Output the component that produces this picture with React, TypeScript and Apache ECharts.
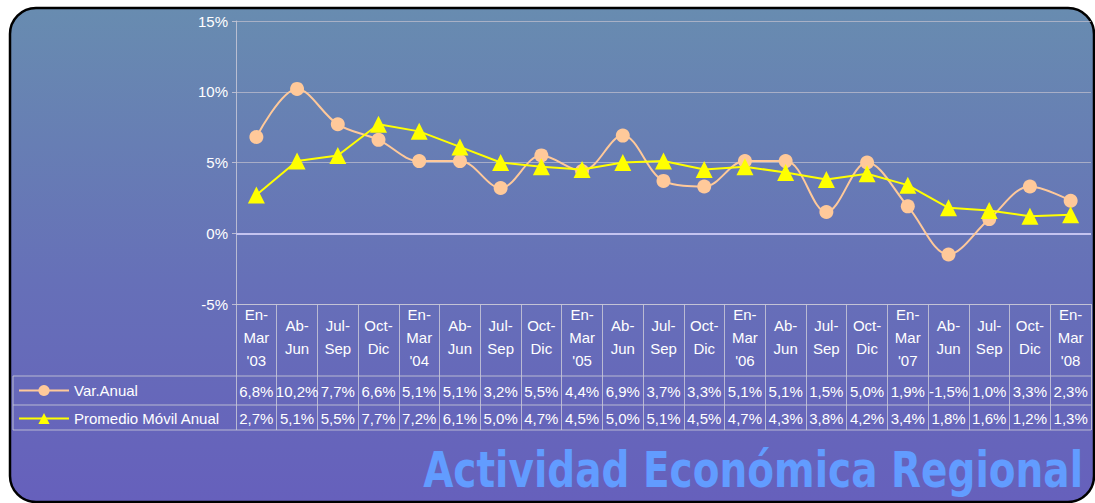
import React, { useEffect, useRef } from "react";
import * as echarts from "echarts";

const categories = [
  "En-\nMar\n'03", "Ab-\nJun", "Jul-\nSep", "Oct-\nDic",
  "En-\nMar\n'04", "Ab-\nJun", "Jul-\nSep", "Oct-\nDic",
  "En-\nMar\n'05", "Ab-\nJun", "Jul-\nSep", "Oct-\nDic",
  "En-\nMar\n'06", "Ab-\nJun", "Jul-\nSep", "Oct-\nDic",
  "En-\nMar\n'07", "Ab-\nJun", "Jul-\nSep", "Oct-\nDic",
  "En-\nMar\n'08",
];
const varAnual = [6.8, 10.2, 7.7, 6.6, 5.1, 5.1, 3.2, 5.5, 4.4, 6.9, 3.7, 3.3, 5.1, 5.1, 1.5, 5.0, 1.9, -1.5, 1.0, 3.3, 2.3];
const promedioMovil = [2.7, 5.1, 5.5, 7.7, 7.2, 6.1, 5.0, 4.7, 4.5, 5.0, 5.1, 4.5, 4.7, 4.3, 3.8, 4.2, 3.4, 1.8, 1.6, 1.2, 1.3];
const seriesNames = ["Var.Anual", "Promedio Móvil Anual"];
const yTicks = { min: -5, max: 15, interval: 5 };
const title = "Actividad Económica Regional";

const fmt = (v: number) => v.toFixed(1).replace(".", ",") + "%";

const FONT = "'Liberation Sans', Arial, sans-serif";
const LINE = "rgba(200,200,215,0.85)";
const FS = 15;

export default function App() {
  const ref = useRef<HTMLDivElement>(null);
  useEffect(() => {
    if (!ref.current) return;
    const chart = echarts.init(ref.current, undefined, { renderer: "svg" });
    const rowAxis = (data: string[], offset: number, tickLen: number, margin: number) => ({
      type: "category",
      data,
      gridIndex: 0,
      position: "bottom",
      offset,
      boundaryGap: true,
      axisLine: { show: false, onZero: false },
      axisTick: { show: true, interval: 0, length: tickLen, lineStyle: { color: LINE, width: 1 } },
      splitLine: { show: false },
      axisLabel: {
        interval: 0,
        margin,
        verticalAlign: "middle",
        color: "#ffffff",
        fontSize: FS,
        fontFamily: FONT,
      },
    });
    chart.setOption({
      animation: false,
      textStyle: { fontFamily: FONT },
      graphic: [
        {
          type: "rect",
          z: -100,
          shape: { x: 10, y: 8, width: 1084, height: 494, r: 26 },
          style: {
            fill: new echarts.graphic.LinearGradient(0, 0, 0, 1, [
              { offset: 0, color: "#688cb0" },
              { offset: 0.55, color: "#6670b8" },
              { offset: 1, color: "#6660bc" },
            ]),
            stroke: "#000000",
            lineWidth: 2.5,
          },
        },
        { type: "line", shape: { x1: 13, y1: 376, x2: 1091, y2: 376 }, style: { stroke: LINE, lineWidth: 1 } },
        { type: "line", shape: { x1: 13, y1: 405, x2: 1091, y2: 405 }, style: { stroke: LINE, lineWidth: 1 } },
        { type: "line", shape: { x1: 13, y1: 430, x2: 1091, y2: 430 }, style: { stroke: LINE, lineWidth: 1 } },
        { type: "line", shape: { x1: 13, y1: 376, x2: 13, y2: 430 }, style: { stroke: LINE, lineWidth: 1 } },
        {
          type: "text",
          x: 1083,
          y: 470,
          scaleX: 0.78,
          style: {
            text: title,
            x: 0,
            y: 0,
            align: "right",
            verticalAlign: "middle",
            fill: "#629cff",
            fontSize: 50,
            fontWeight: "bold",
            fontFamily: "'DejaVu Sans', sans-serif",
          },
        },
      ],
      grid: { left: 236, right: 4, top: 21, bottom: 199, containLabel: false },
      legend: {
        orient: "vertical",
        left: 18,
        top: 383,
        itemWidth: 50,
        itemHeight: 14,
        itemGap: 13,
        padding: 0,
        data: seriesNames,
        textStyle: { color: "#ffffff", fontSize: FS, lineHeight: 15, fontFamily: FONT },
      },
      xAxis: [
        {
          type: "category",
          data: categories,
          boundaryGap: true,
          axisLine: { show: true, onZero: false, lineStyle: { color: LINE, width: 1 } },
          axisTick: { show: true, interval: 0, length: 72, lineStyle: { color: LINE, width: 1 } },
          axisLabel: {
            interval: 0,
            margin: 33,
            verticalAlign: "middle",
            lineHeight: 23,
            color: "#ffffff",
            fontSize: FS,
            fontFamily: FONT,
          },
        },
        rowAxis(varAnual.map(fmt), 72, 29, 15),
        rowAxis(promedioMovil.map(fmt), 101, 25, 13),
      ],
      yAxis: {
        type: "value",
        min: yTicks.min,
        max: yTicks.max,
        interval: yTicks.interval,
        axisLine: { show: true, lineStyle: { color: LINE, width: 1 } },
        axisTick: { show: true, length: 4, lineStyle: { color: LINE } },
        axisLabel: {
          formatter: "{value}%",
          margin: 8,
          color: "#ffffff",
          fontSize: FS,
          fontFamily: FONT,
        },
        splitLine: { show: true, lineStyle: { color: "rgba(190,190,205,0.75)", width: 1 } },
      },
      series: [
        {
          name: seriesNames[0],
          type: "line",
          data: varAnual,
          smooth: 0.35,
          symbol: "circle",
          symbolSize: 14,
          itemStyle: { color: "#ffc99a" },
          lineStyle: { color: "#ffc99a", width: 2 },
          z: 3,
          markLine: {
            silent: true,
            symbol: "none",
            label: { show: false },
            lineStyle: { color: "#c4c4f0", width: 2, type: "solid" },
            data: [{ yAxis: 0 }],
            z: 1,
          },
        },
        {
          name: seriesNames[1],
          type: "line",
          data: promedioMovil,
          symbol: "triangle",
          symbolSize: 17,
          itemStyle: { color: "#ffff00" },
          lineStyle: { color: "#ffff00", width: 2 },
          z: 4,
        },
      ],
    });
    return () => chart.dispose();
  }, []);
  return (
    <div
      ref={ref}
      style={{ position: "absolute", left: 0, top: 0, width: 1095, height: 503, background: "#ffffff" }}
    />
  );
}
